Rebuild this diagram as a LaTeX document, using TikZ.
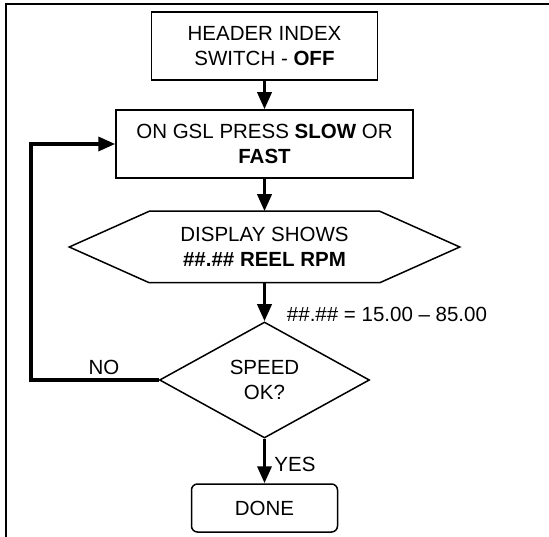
\documentclass[tikz,border=0pt]{standalone}
\usepackage{fontspec}
\setmainfont{Liberation Sans}
\usetikzlibrary{
calc,
arrows.meta,
shapes.geometric
}

\begin{document}
\begin{tikzpicture}[x=1pt, y=-1pt,
  box/.style={draw, line width=1.5pt, rectangle, align=center, inner sep=0pt,
    font=\fontsize{20.5}{25}\selectfont},
  flow/.style={line width=3.5pt, -{Triangle[length=17pt,width=14pt]}},
  txt/.style={font=\fontsize{20.5}{25}\selectfont, inner sep=0pt}]

\useasboundingbox (0,0) rectangle (549,537);

% Frame
\draw[line width=1.5pt] (6,537) -- (6,4) -- (549,4);

% Boxes
\node[box, minimum width=226, minimum height=68] (header) at (264.5,46)
  {HEADER INDEX\\SWITCH - \textbf{OFF}};
\node[box, minimum width=297, minimum height=68] (press) at (264.5,144)
  {ON GSL PRESS \textbf{SLOW} OR\\\textbf{FAST}};

% Display (hexagon)
\node[box, draw=none, minimum width=229, minimum height=70] (disp) at (264.5,247)
  {DISPLAY SHOWS\\\textbf{\#\#.\#\# REEL RPM}};
\draw[line width=1.5pt]
  (disp.north west) -- (disp.north east) -- ($(disp.east)+(80,0)$)
  -- (disp.south east) -- (disp.south west) -- ($(disp.west)+(-80,0)$) -- cycle;

% Decision
\node[box, diamond, aspect=1.8, minimum width=210, minimum height=116] (speed) at (264.5,380)
  {SPEED\\OK?};

% Done
\node[box, rounded corners=6pt, minimum width=146, minimum height=48] (done) at (264.5,508)
  {DONE};

% Arrows
\draw[flow] (header.south) -- (press.north);
\draw[flow] (press.south) -- (disp.north);
\draw[flow] (disp.south) -- (speed.north);
\draw[flow] (speed.south) -- (done.north);

% Loop back
\coordinate (back) at (31,380);
\draw[flow] (speed.west) -- (back) |- (press.west);

% Labels
\node[txt] (range) at (387,314) {\#\#.\#\# = 15.00 -- 85.00};
\node[txt] (no) at (104,367) {NO};
\node[txt] (yes) at (295,464) {YES};

\end{tikzpicture}
\end{document}
